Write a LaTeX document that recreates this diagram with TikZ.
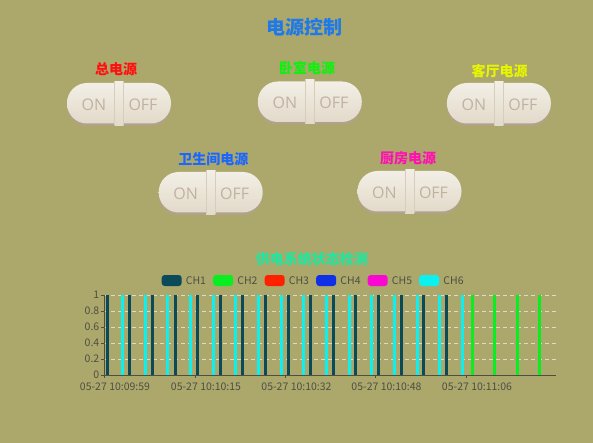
\documentclass[tikz,border=0pt]{standalone}
\usepackage{fontspec}
\newfontfamily\cjk{Noto Sans CJK SC}
\newfontfamily\swfont{Open Sans}
\definecolor{bg}{HTML}{ACA86B}
\definecolor{swtop}{HTML}{F3EFE6}
\definecolor{swbot}{HTML}{E2DACA}
\definecolor{swshadow}{HTML}{B3A28B}
\definecolor{swtxt}{HTML}{C2B1A1}
\definecolor{swline}{HTML}{D8CDBB}
\definecolor{ttlblue}{HTML}{1F7AE8}
\definecolor{lred}{HTML}{FF1010}
\definecolor{lgreen}{HTML}{10F010}
\definecolor{lyellow}{HTML}{E6F500}
\definecolor{lblue}{HTML}{1A66FF}
\definecolor{lmag}{HTML}{FF10B0}
\definecolor{ctitle}{HTML}{22E6A0}
\definecolor{chA}{HTML}{0B4A58}
\definecolor{chB}{HTML}{08EE20}
\definecolor{chC}{HTML}{FF2000}
\definecolor{chD}{HTML}{1030E8}
\definecolor{chE}{HTML}{F808D0}
\definecolor{chF}{HTML}{0CF0F0}
\definecolor{axtxt}{HTML}{4E4E44}
\definecolor{grid}{HTML}{DCDCCC}
\begin{document}
\begin{tikzpicture}[x=1pt,y=-1pt,
  swtext/.style={text=swtxt,font=\swfont\fontsize{16}{16}\selectfont,inner sep=0pt},
  lbl/.style={font=\cjk\bfseries\fontsize{14}{14}\selectfont,inner sep=0pt},
  axlbl/.style={text=axtxt,font=\cjk\fontsize{10.5}{10.5}\selectfont,inner sep=0pt},
  legtxt/.style={text=axtxt,font=\cjk\fontsize{10.5}{10.5}\selectfont,inner sep=0pt,anchor=west},
  swatch/.style={rounded corners=3pt},
  bar/.style={line width=3pt},
  onoff/.pic={
    \fill[swshadow,rounded corners=20pt] (-52,-18) rectangle (52,22);
    \shade[top color=swtop,bottom color=swbot,rounded corners=20pt] (-52,-21) rectangle (52,19.5);
    \shade[top color=swtop,bottom color=swbot] (-4.5,-22.5) rectangle (4.5,21.5);
    \draw[swline,line width=0.8pt] (-4.5,-22.5) -- (-4.5,21.5) (4.5,-22.5) -- (4.5,21.5);
    \node[swtext] (-on) at (-25,0.5) {ON};
    \node[swtext] (-off) at (24,0.5) {OFF};
  }]
\useasboundingbox (0,0) rectangle (593,443);
\fill[bg] (0,0) rectangle (593,443);

\node[font=\cjk\bfseries\fontsize{19}{19}\selectfont,text=ttlblue,inner sep=0pt] (title) at (304,27) {电源控制};

\node[lbl,text=lred] (l1) at (116,69.5) {总电源};
\node[lbl,text=lgreen] (l2) at (307,68.5) {卧室电源};
\node[lbl,text=lyellow] (l3) at (499.5,71) {客厅电源};
\node[lbl,text=lblue] (l4) at (213.3,159.5) {卫生间电源};
\node[lbl,text=lmag] (l5) at (408,158.5) {厨房电源};

\pic (s1) at (119,104) {onoff};
\pic (s2) at (309.8,102.5) {onoff};
\pic (s3) at (498.9,104) {onoff};
\pic (s4) at (210.7,193) {onoff};
\pic (s5) at (409.5,192) {onoff};

% chart
\node[font=\cjk\bfseries\fontsize{14}{14}\selectfont,text=ctitle,inner sep=0pt] (ctitle) at (311.8,259) {供电系统状态检测};

\foreach \i/\c/\t in {0/chA/CH1,1/chB/CH2,2/chC/CH3,3/chD/CH4,4/chE/CH5,5/chF/CH6}{
  \fill[\c,swatch] ({161.7+51.5*\i},275) rectangle ({181.7+51.5*\i},286);
  \node[legtxt] (leg\i) at ({185.7+51.5*\i},281) {\t};
}

% grid
\foreach \v [count=\k from 0] in {0,0.2,0.4,0.6,0.8,1}{
  \pgfmathsetmacro\yy{375-16*\k}
  \ifnum\k>0
    \draw[grid,dashed,dash pattern=on 4pt off 3pt,line width=0.7pt] (104,\yy) -- (556,\yy);
  \fi
  \draw[axtxt,line width=0.8pt] (101,\yy) -- (104,\yy);
  \node[axlbl,anchor=east] (y\k) at (99.5,\yy) {\v};
}

% bars
\foreach \k in {0,...,15}{
  \draw[bar,chF] ({122.7+22.64*\k},295.3) -- ({122.7+22.64*\k},375);
  \draw[bar,chA] ({107.3+22.6*\k},295.3) -- ({107.3+22.6*\k},375);
}
\foreach \k in {0,...,3}{
  \draw[bar,chB] ({472.3+22.47*\k},295.3) -- ({472.3+22.47*\k},375);
}

% axes
\draw[axtxt,line width=0.8pt] (104,295) -- (104,378);
\draw[axtxt,line width=0.8pt] (104,375) -- (556,375);
\foreach \x/\t [count=\k] in {104/05-27 10:09:59,195/05-27 10:10:15,285.5/05-27 10:10:32,375.5/05-27 10:10:48,466/05-27 10:11:06}{
  \draw[axtxt,line width=0.8pt] (\x,375) -- (\x,378);
  \node[axlbl] (x\k) at (\x+11,386.5) {\t};
}
\end{tikzpicture}
\end{document}
